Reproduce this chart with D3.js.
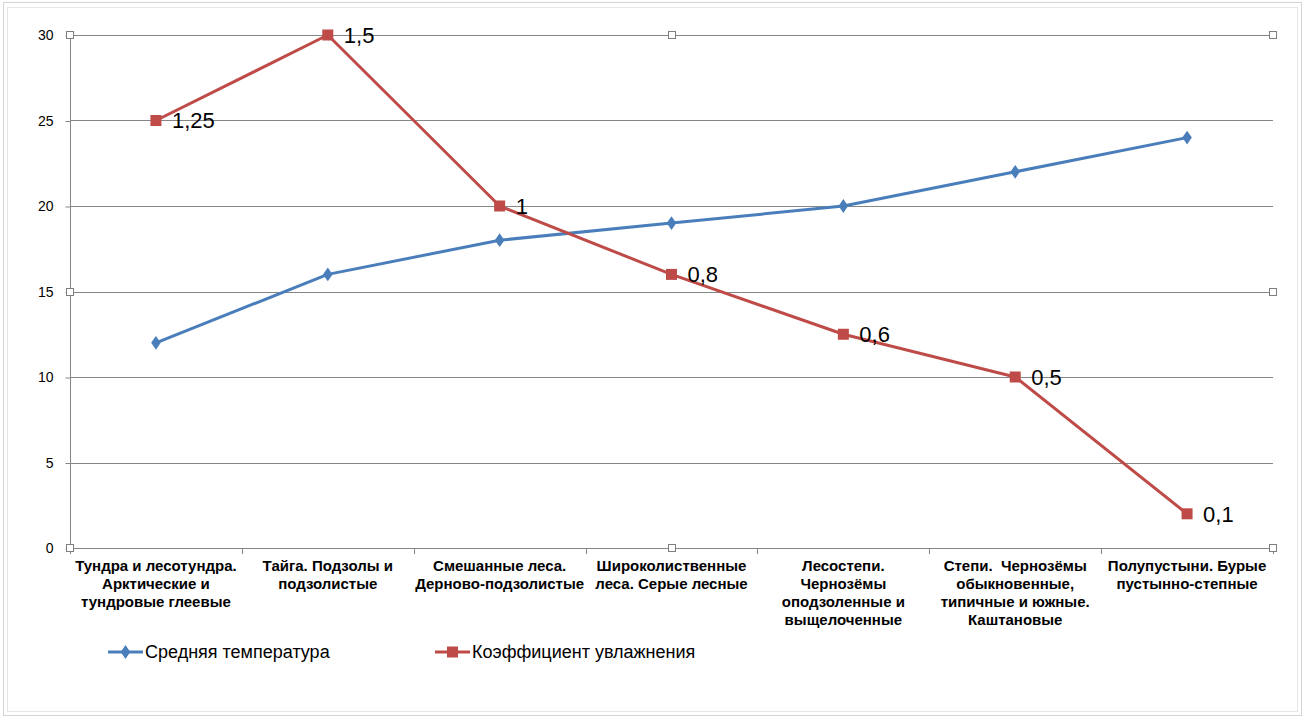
<!DOCTYPE html>
<html><head><meta charset="utf-8">
<script src="https://cdn.jsdelivr.net/npm/d3@7"></script>
<style>body{margin:0;background:#fff}svg{display:block}text{font-family:"Liberation Sans",Arial,sans-serif}</style>
</head><body><svg id="c" width="1305" height="719"></svg>
<script>
const categories = [
  "Тундра и лесотундра.\nАрктические и\nтундровые глеевые",
  "Тайга. Подзолы и\nподзолистые",
  "Смешанные леса.\nДерново-подзолистые",
  "Широколиственные\nлеса. Серые лесные",
  "Лесостепи.\nЧернозёмы\nоподзоленные и\nвыщелоченные",
  "Степи.  Чернозёмы\nобыкновенные,\nтипичные и южные.\nКаштановые",
  "Полупустыни. Бурые\nпустынно-степные"
];
const temperature = [12, 16, 18, 19, 20, 22, 24];
const moisturePlotted = [25, 30, 20, 16, 12.5, 10, 2];
const moistureLabels = ["1,25", "1,5", "1", "0,8", "0,6", "0,5", "0,1"];
const yTicks = [0, 5, 10, 15, 20, 25, 30];
const seriesNames = ["Средняя температура", "Коэффициент увлажнения"];

const svg = d3.select("#c");
const L = 70, R = 1273, T = 35, B = 548;
const x = d3.scaleBand().domain(d3.range(categories.length)).range([L, R]);
const y = d3.scaleLinear().domain([0, 30]).range([B, T]);
const blue = "#4A7EBB", red = "#BE4B48", grid = "#868686";

// outer frame
svg.append("rect").attr("x", 3.5).attr("y", 2.5).attr("width", 1298).attr("height", 713)
  .attr("fill", "none").attr("stroke", "#d4d4d4");
svg.append("rect").attr("x", 7.5).attr("y", 7.5).attr("width", 1290).attr("height", 704)
  .attr("fill", "none").attr("stroke", "#e6e6e6");

// gridlines
svg.append("g").selectAll("line").data(yTicks).join("line")
  .attr("x1", L).attr("x2", R).attr("y1", d => Math.round(y(d)) + 0.5).attr("y2", d => Math.round(y(d)) + 0.5)
  .attr("stroke", grid).attr("stroke-width", 1);

// y axis
const yAxis = d3.axisLeft(y).tickValues(yTicks).tickSize(5).tickPadding(12).tickFormat(d3.format("d"));
const ya = svg.append("g").attr("transform", `translate(${L + 0.5},0.5)`).call(yAxis);
ya.select(".domain").attr("stroke", grid).attr("d", `M0,${T}V${B}`);
ya.selectAll(".tick line").attr("stroke", grid);
ya.selectAll(".tick text").attr("font-size", 14).attr("fill", "#000").attr("font-family", "Liberation Sans, Arial, sans-serif");

// x axis line and ticks at boundaries
svg.append("line").attr("x1", L).attr("x2", R).attr("y1", B + 0.5).attr("y2", B + 0.5).attr("stroke", grid);
const bounds = d3.range(categories.length + 1).map(i => L + i * x.step());
svg.selectAll("line.xt").data(bounds).join("line").attr("class", "xt")
  .attr("x1", d => Math.round(d) + 0.5).attr("x2", d => Math.round(d) + 0.5)
  .attr("y1", B).attr("y2", B + 6).attr("stroke", grid);

// x labels
categories.forEach((c, i) => {
  const t = svg.append("text").attr("x", x(i) + x.bandwidth() / 2).attr("y", 571)
    .attr("text-anchor", "middle").attr("font-size", 15).attr("font-weight", "bold").attr("fill", "#000")
    .attr("xml:space", "preserve");
  c.split("\n").forEach((ln, k) => t.append("tspan").attr("x", x(i) + x.bandwidth() / 2).attr("dy", k ? 18 : 0).text(ln));
});

const cx = i => x(i) + x.bandwidth() / 2;
const line = d3.line().x((d, i) => cx(i)).y(d => y(d));

svg.append("path").datum(temperature).attr("d", line).attr("fill", "none")
  .attr("stroke", blue).attr("stroke-width", 3).attr("stroke-linejoin", "round");
svg.append("path").datum(moisturePlotted).attr("d", line).attr("fill", "none")
  .attr("stroke", red).attr("stroke-width", 3).attr("stroke-linejoin", "round");

const diamond = d3.symbol().type(d3.symbolDiamond).size(55);
svg.selectAll("path.tm").data(temperature).join("path").attr("class", "tm")
  .attr("d", diamond).attr("transform", (d, i) => `translate(${cx(i)},${y(d)}) scale(1.2,1)`)
  .attr("fill", blue);
svg.selectAll("rect.mm").data(moisturePlotted).join("rect").attr("class", "mm")
  .attr("x", (d, i) => cx(i) - 5.5).attr("y", d => y(d) - 5.5).attr("width", 11).attr("height", 11)
  .attr("fill", red);

svg.selectAll("text.ml").data(moisturePlotted).join("text").attr("class", "ml")
  .attr("x", (d, i) => cx(i) + 16).attr("y", d => y(d)).attr("dy", "0.36em")
  .attr("font-size", 22).attr("fill", "#000").text((d, i) => moistureLabels[i]);

// plot-area handles
const handles = [[L, T], [(L + R) / 2, T], [R, T], [L, (T + B) / 2], [R, (T + B) / 2], [L, B], [(L + R) / 2, B], [R, B]];
svg.selectAll("rect.h").data(handles).join("rect").attr("class", "h")
  .attr("x", d => Math.round(d[0]) - 3.5).attr("y", d => Math.round(d[1]) - 3.5).attr("width", 7).attr("height", 7)
  .attr("fill", "#fff").attr("stroke", "#7f7f7f");

// legend
const lg = [{x: 108, c: blue, sym: "d"}, {x: 435, c: red, sym: "s"}];
lg.forEach((l, i) => {
  const ly = 652;
  svg.append("line").attr("x1", l.x).attr("x2", l.x + 35).attr("y1", ly).attr("y2", ly).attr("stroke", l.c).attr("stroke-width", 3);
  if (l.sym === "d") svg.append("path").attr("d", diamond).attr("transform", `translate(${l.x + 17.5},${ly}) scale(1.2,1)`).attr("fill", l.c);
  else svg.append("rect").attr("x", l.x + 12).attr("y", ly - 5.5).attr("width", 11).attr("height", 11).attr("fill", l.c);
  svg.append("text").attr("x", l.x + 37).attr("y", ly).attr("dy", "0.36em").attr("font-size", 18).attr("fill", "#000").text(seriesNames[i]);
});
</script></body></html>
